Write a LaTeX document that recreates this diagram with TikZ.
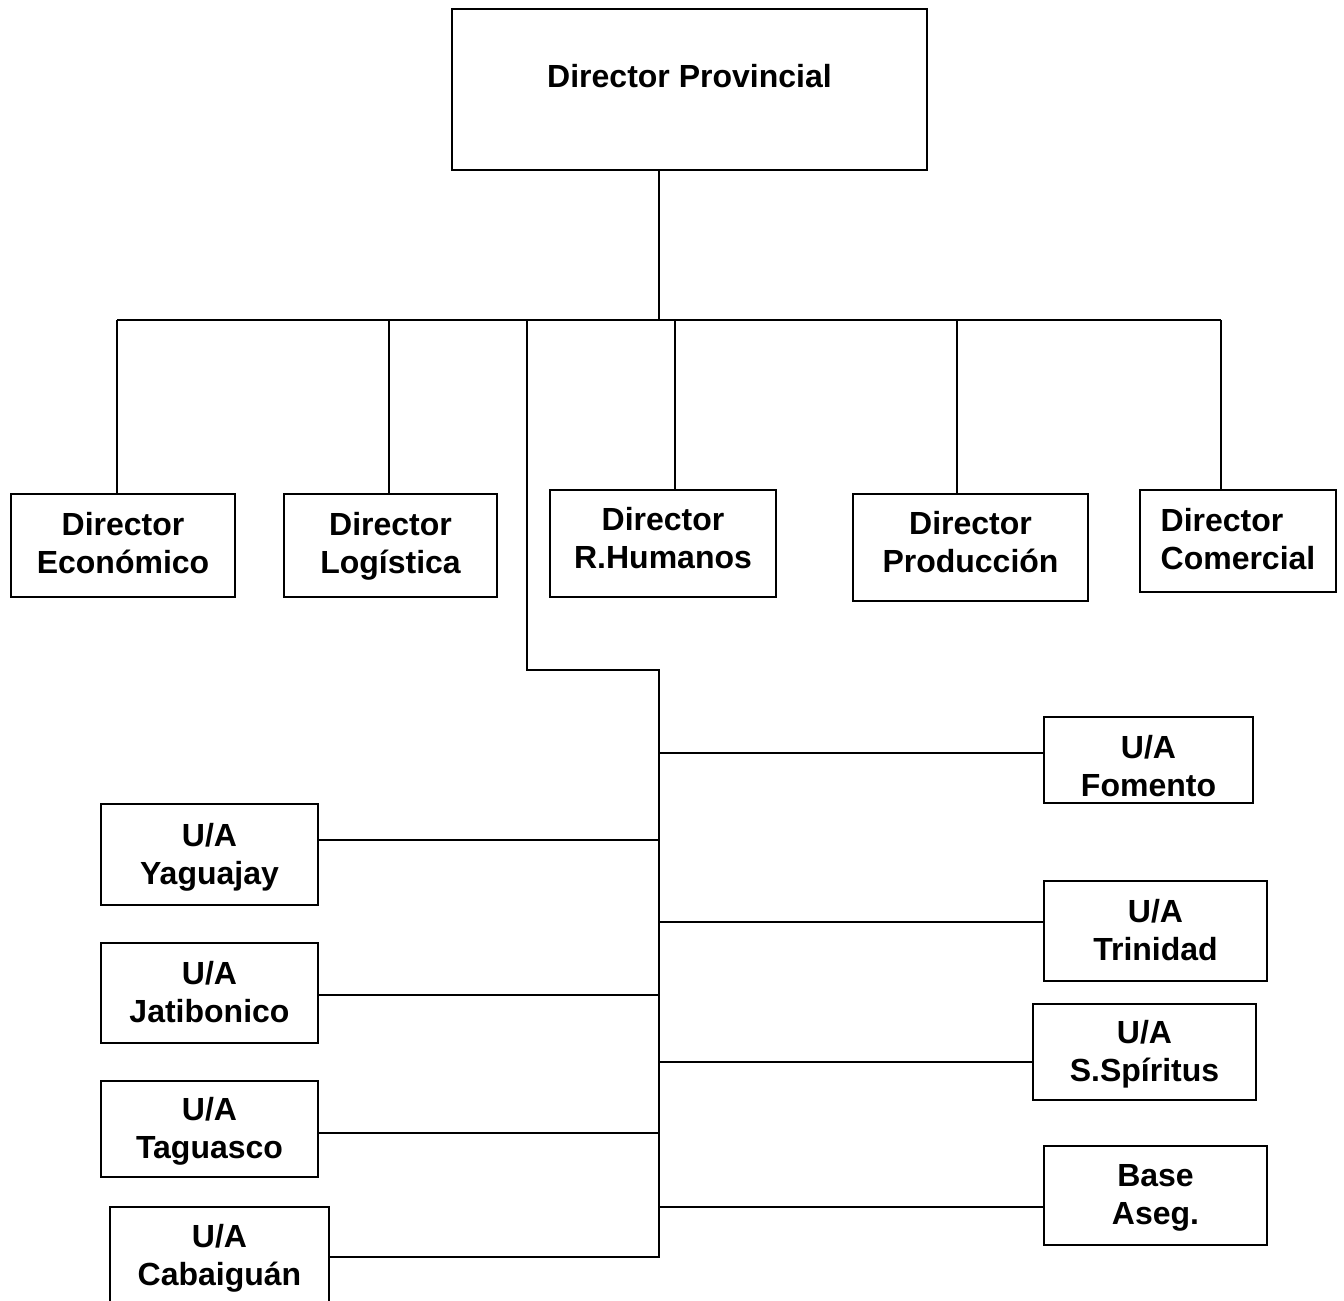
\documentclass[tikz,border=0pt]{standalone}
\usepackage{fontspec}
\setmainfont{Liberation Sans}
\tikzset{
    unit/.style={draw, line width=1.1pt, align=center, inner sep=0pt, text depth=1pt,
      font=\bfseries\fontsize{16}{19}\selectfont},
    size/.style 2 args={minimum width=#1, minimum height=#2},
    link/.style={line width=1pt},
  }
\begin{document}
\begin{tikzpicture}[x=0.5pt,y=-0.5pt]
				  \useasboundingbox (0,0) rectangle (1344,1301);
				  %DIRECTOR PROVINCIAL
				  \node[unit, size={237.5pt}{80.5pt}, text depth=13.5pt] (prov) at (689.5,89.5) {Director Provincial};
				  %DIRECTORES
				  \node[unit, size={112pt}{51.5pt}, text depth=3pt] (eco) at (123,545.5) {Director\\Económico};
				  \node[unit, size={106.5pt}{51.5pt}, text depth=3pt] (log) at (390.5,545.5) {Director\\Logística};
				  \node[unit, size={113pt}{53.5pt}, text depth=6pt] (rh) at (663,543.5) {Director\\R.Humanos};
				  \node[unit, size={117.5pt}{53.5pt}, text depth=6pt] (prod) at (970.5,547.5) {Director\\Producción};
				  \node[unit, size={98pt}{51pt}, text depth=2pt, align=left] (com) at (1238,541) {Director\\Comercial};
				  %BUS
				  \coordinate (bus) at (659,320);
				  \draw[link] (bus |- prov.south) -- (bus);
				  \draw[link] (117,320) -- (1221,320);
				  \foreach \x/\n in {117/eco, 389/log, 675/rh, 957/prod, 1221/com}
				    \draw[link] (\x,320) -- (\x,320 |- \n.north);
				  %UNIDADES
				  \node[unit, size={104.5pt}{43pt}, text height=36.5pt, text depth=0pt] (fom) at (1148.5,760) {U/A\\Fomento};
				  \node[unit, size={111.5pt}{50pt}] (tri) at (1155.5,931) {U/A\\Trinidad};
				  \node[unit, size={111.5pt}{48pt}] (ssp) at (1144.5,1052) {U/A\\S.Spíritus};
				  \node[unit, size={111.5pt}{49.5pt}] (base) at (1155.5,1195.5) {Base\\Aseg.};
				  \node[unit, size={108.5pt}{50.5pt}] (yag) at (209.5,854.5) {U/A\\Yaguajay};
				  \node[unit, size={108.5pt}{50pt}] (jat) at (209.5,993) {U/A\\Jatibonico};
				  \node[unit, size={108.5pt}{48pt}] (tag) at (209.5,1129) {U/A\\Taguasco};
				  \node[unit, size={109.5pt}{49pt}] (cab) at (219.5,1256) {U/A\\Cabaiguán};
				  %TRONCO
				  \coordinate (tk) at (659,670);
				  \draw[link] (527,320) -- (527,670) -- (tk) -- (tk |- 0,1257) -- (cab.east |- 0,1257);
				  \foreach \n/\y in {fom/753, tri/922, ssp/1062, base/1207}
				    \draw[link] (tk |- 0,\y) -- (\n.west |- 0,\y);
				  \foreach \n/\y in {yag/840, jat/995, tag/1133}
				    \draw[link] (tk |- 0,\y) -- (\n.east |- 0,\y);
				  \end{tikzpicture}
\end{document}
